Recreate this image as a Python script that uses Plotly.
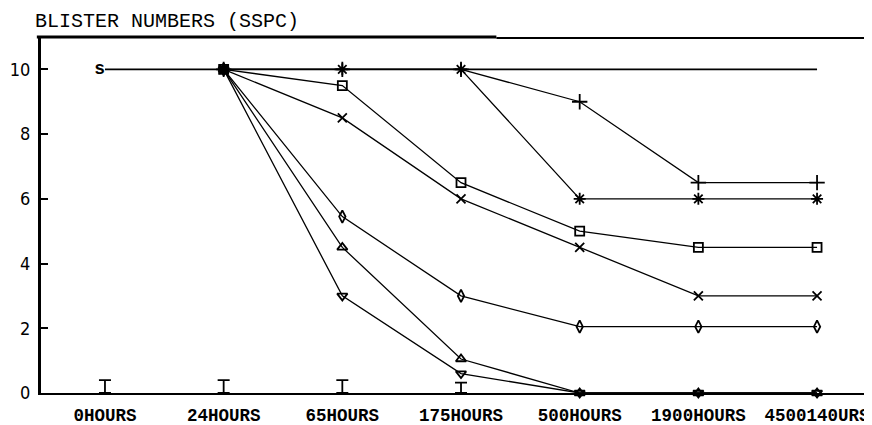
import plotly.graph_objects as go

categories = ["0HOURS", "24HOURS", "65HOURS", "175HOURS", "500HOURS", "1900HOURS", "4500140URS"]
x_all = list(range(len(categories)))
x_from24 = x_all[1:]

s_line = [10, 10, 10, 10, 10, 10, 10]
a_plus = [10, 10, 10, 9.0, 6.5, 6.5]
b_star = [10, 10, 10, 6.0, 6.0, 6.0]
c_square = [10, 9.5, 6.5, 5.0, 4.5, 4.5]
d_x = [10, 8.5, 6.0, 4.5, 3.0, 3.0]
e_diamond = [10, 5.45, 3.0, 2.05, 2.05, 2.05]
f_triangle = [10, 4.5, 1.05, 0, 0, 0]
g_nabla = [10, 3.0, 0.6, 0, 0, 0]
i_x = [0, 1, 2, 3]
i_height = [0.4, 0.4, 0.4, 0.32]

y_ticks = [0, 2, 4, 6, 8, 10]

# page body has an 8px margin: figure is sized/offset to compensate
W, H = 864, 417

fig = go.Figure()

fig.add_trace(go.Scatter(x=x_all, y=s_line, mode="lines",
                         line=dict(color="black", width=1.6), hoverinfo="skip"))
fig.add_trace(go.Scatter(x=[x_all[0]], y=[s_line[0]], mode="text", text=["s"],
                         textposition="middle left",
                         textfont=dict(family="Liberation Mono", size=18, color="black",
                                       weight="bold"),
                         hoverinfo="skip"))

series = [
    (a_plus, "cross-thin-open", 11),
    (b_star, "asterisk-open", 10),
    (c_square, "square-open", 9),
    (d_x, "x-thin-open", 9),
    (e_diamond, "diamond-tall-open", 9),
    (f_triangle, "triangle-up-open", 9),
    (g_nabla, "triangle-down-open", 9),
]
for vals, sym, sz in series:
    fig.add_trace(go.Scatter(
        x=x_from24, y=vals, mode="lines+markers",
        line=dict(color="black", width=1.3),
        marker=dict(symbol=sym, size=sz, color="black",
                    line=dict(color="black", width=1.8)),
        cliponaxis=False, hoverinfo="skip"))

fig.add_trace(go.Scatter(
    x=i_x, y=[0] * len(i_x), mode="markers",
    marker=dict(size=1, color="rgba(0,0,0,0)"),
    error_y=dict(type="data", symmetric=False, array=i_height,
                 arrayminus=[0] * len(i_x), color="black", thickness=1.8, width=6),
    cliponaxis=False, hoverinfo="skip"))

fig.update_layout(
    width=W, height=H,
    margin=dict(l=33, r=0, t=29, b=32, autoexpand=False),
    paper_bgcolor="white", plot_bgcolor="white",
    showlegend=False,
    title=dict(text="BLISTER NUMBERS (SSPC)", x=27 / W, xanchor="left",
               xref="container", yref="container", y=1 - 5 / H, yanchor="top",
               font=dict(family="Liberation Mono", size=20, color="black")),
    xaxis=dict(range=[-0.539, 6.463], tickvals=x_all, ticktext=categories,
               showgrid=False, zeroline=False, showline=True, linecolor="black",
               linewidth=2, ticks="", ticklabelstandoff=5, ticklabeloverflow="allow",
               automargin=False,
               tickfont=dict(family="Liberation Mono", size=17.5, color="black",
                             weight="bold")),
    yaxis=dict(range=[0, 11], tickvals=y_ticks, showgrid=False, zeroline=False,
               showline=True, linecolor="black", linewidth=3, automargin=False,
               ticks="inside", ticklen=7, tickwidth=2, tickcolor="black",
               ticklabelstandoff=4,
               tickfont=dict(family="DejaVu Sans Condensed", size=18, color="black")),
    shapes=[
        dict(type="line", xref="paper", yref="paper", x0=-0.005, x1=0.548, y0=1, y1=1,
             line=dict(color="black", width=3)),
        dict(type="line", xref="paper", yref="paper", x0=0.548, x1=1, y0=0.997, y1=0.997,
             line=dict(color="black", width=2)),
    ],
)

fig.write_html("out.html")
